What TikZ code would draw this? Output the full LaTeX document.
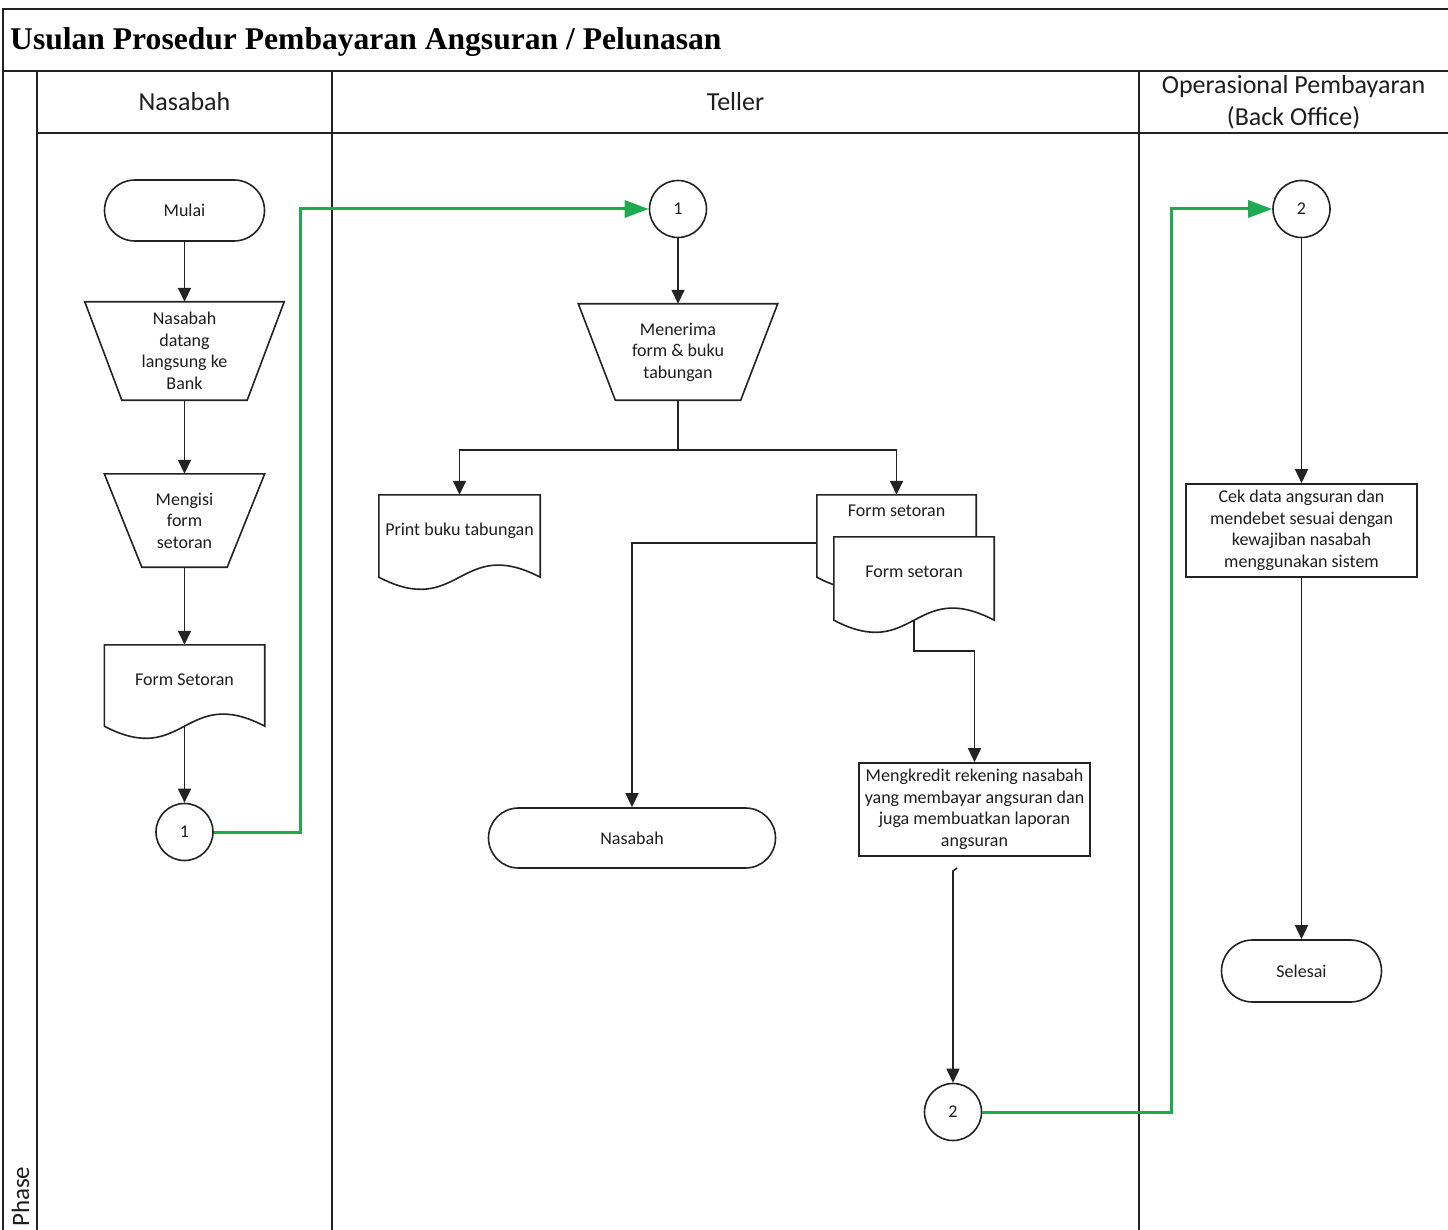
\documentclass[tikz,border=0pt]{standalone}
\usepackage{fontspec}
\setmainfont{Carlito}
\newfontfamily\titlefont{Liberation Serif}
\usetikzlibrary{shapes.misc,arrows.meta,calc}

\definecolor{linegray}{RGB}{35,35,35}
\definecolor{flowgreen}{RGB}{30,170,80}
\definecolor{txt}{RGB}{30,30,30}

\newcommand\bodyfont{\fontsize{18}{21.5}\selectfont}
\newcommand\headfont{\fontsize{26}{32}\selectfont}

% outline of a manual-operation step: the box of #1, its lower corners moved in by #2
\newcommand\manualop[2]{%
  \path[outline] (#1.north west) -- (#1.north east) -- ([xshift=-#2]#1.south east)
    -- ([xshift=#2]#1.south west) -- cycle;}
% outline of a document: the box of #1 with a wavy lower edge
\newcommand\docoutline[1]{%
  \path[outline] (#1.south west) -- (#1.north west) -- (#1.north east) -- (#1.south east)
    .. controls ($(#1.south)+(0,-42)$) and ($(#1.south)+(0,42)$) .. (#1.south west) -- cycle;}

\pgfdeclarelayer{shapes}
\pgfsetlayers{shapes,main}

\begin{document}
\begin{tikzpicture}[x=1pt,y=-1pt,
  lane/.style={draw=linegray, line width=2pt},
  outline/.style={draw=linegray, line width=1.6pt, fill=white},
  flow/.style={draw=linegray, line width=1.6pt, -{Triangle[length=14pt,width=13pt]}},
  jump/.style={draw=flowgreen, line width=3pt, -{Triangle[length=24pt,width=17pt]}},
  terminal/.style={rounded rectangle, outline, minimum height=61pt, inner sep=0pt,
    font=\bodyfont, text=txt},
  connector/.style={circle, outline, minimum size=57pt, inner sep=0pt, font=\bodyfont, text=txt},
  process/.style={rectangle, outline, minimum width=231pt, minimum height=93pt,
    inner sep=0pt, align=center, font=\bodyfont, text=txt},
  holder/.style={rectangle, inner sep=0pt, align=center, font=\bodyfont, text=txt},
  doctext/.style={font=\bodyfont, text=txt, inner sep=0pt, anchor=center},
  header/.style={font=\headfont, text=txt, align=center, inner sep=0pt}
]
\useasboundingbox (0,0) rectangle (1448,1230);

% frame and swimlanes
\draw[lane] (3,1230) -- (3,9) -- (1448,9);
\draw[lane] (3,71) -- (1448,71);
\draw[lane] (37,71) -- (37,1230);
\draw[lane] (37,133) -- (1448,133);
\draw[lane] (332,71) -- (332,1230);
\draw[lane] (1139,71) -- (1139,1230);

\node[anchor=base west, inner sep=0pt, text=black,
      font=\titlefont\bfseries\fontsize{31.6}{31.6}\selectfont] (title) at (10,50)
  {Usulan Prosedur Pembayaran Angsuran / Pelunasan};
\node[header] (hNasabah) at (184.5,102) {Nasabah};
\node[header] (hTeller) at (735.5,102) {Teller};
\node[header] (hOps) at (1293.5,102) {Operasional Pembayaran\\(Back Office)};
\node[rotate=90, anchor=base west, inner sep=0pt, text=txt,
      font=\fontsize{25}{25}\selectfont] (phase) at (29,1227) {Phase};

% Nasabah lane
\node[terminal, minimum width=160pt] (start) at (184.5,210.5) {Mulai};
\node[holder, minimum width=199pt, minimum height=98pt] (trapA) at (184.5,351)
  {Nasabah\\datang\\langsung ke\\Bank};
\node[holder, minimum width=160pt, minimum height=93pt] (trapB) at (184.5,520.5)
  {Mengisi\\form\\setoran};
\node[holder, minimum width=160pt, minimum height=81pt,
      label={[doctext, yshift=-35pt]north:Form Setoran}] (formA) at (184.5,685.5) {};
\node[connector] (conA1) at (184.5,832) {1};

% Teller lane
\node[connector] (conB1) at (678,209) {1};
\node[holder, minimum width=199pt, minimum height=96pt] (trapC) at (678,352)
  {Menerima\\form \& buku\\tabungan};
\node[holder, minimum width=161pt, minimum height=82pt,
      label={[doctext, yshift=-36pt]north:Print buku tabungan}] (printDoc) at (459.5,536) {};
\node[holder, minimum width=159pt, minimum height=82pt,
      label={[doctext, yshift=-16pt]north:Form setoran}] (backDoc) at (896.5,536) {};
\node[holder, minimum width=160pt, minimum height=83pt,
      label={[doctext, yshift=-35pt]north:Form setoran}] (frontDoc) at (914,578.5) {};
\node[terminal, minimum width=287pt, minimum height=60pt] (custT) at (632,838) {Nasabah};
\node[process] (procA) at (974.5,809.5)
  {Mengkredit rekening nasabah\\yang membayar angsuran dan\\juga membuatkan laporan\\angsuran};
\node[connector] (conA2) at (953,1112) {2};

% Back office lane
\node[connector] (conB2) at (1301.5,209) {2};
\node[process] (procB) at (1301.5,530.5)
  {Cek data angsuran dan\\mendebet sesuai dengan\\kewajiban nasabah\\menggunakan sistem};
\node[terminal, minimum width=160pt, minimum height=62pt] (finish) at (1301.5,971) {Selesai};

% shape outlines below the texts
\begin{pgfonlayer}{shapes}
  \manualop{trapA}{37pt}
  \manualop{trapB}{37.5pt}
  \manualop{trapC}{37pt}
  \docoutline{formA}
  \docoutline{printDoc}
  \docoutline{backDoc}
  \docoutline{frontDoc}
\end{pgfonlayer}

% flow lines
\draw[flow] (start.south) -- (trapA.north);
\draw[flow] (trapA.south) -- (trapB.north);
\draw[flow] (trapB.south) -- (formA.north);
\draw[flow] (formA.south) -- (conA1.north);
\draw[jump] (conA1.east) -- ++(87,0) |- (conB1.west);
\draw[flow] (conB1.south) -- (trapC.north);
\draw[draw=linegray, line width=1.6pt] (trapC.south) -- ++(0,50) coordinate (split);
\draw[flow] (split) -| (printDoc.north);
\draw[flow] (split) -| (backDoc.north);
\draw[flow] ([yshift=-7pt]backDoc.west) -| (custT.north);
\draw[flow] (frontDoc.south) -- ++(0,31) -| (procA.north);
\coordinate (tick) at (957,868);
\draw[flow] (tick) -- ++(-4,3) -- (conA2.north);
\draw[jump] (conA2.east) -- ++(189.5,0) |- (conB2.west);
\draw[flow] (conB2.south) -- (procB.north);
\draw[flow] (procB.south) -- (finish.north);
\end{tikzpicture}
\end{document}
